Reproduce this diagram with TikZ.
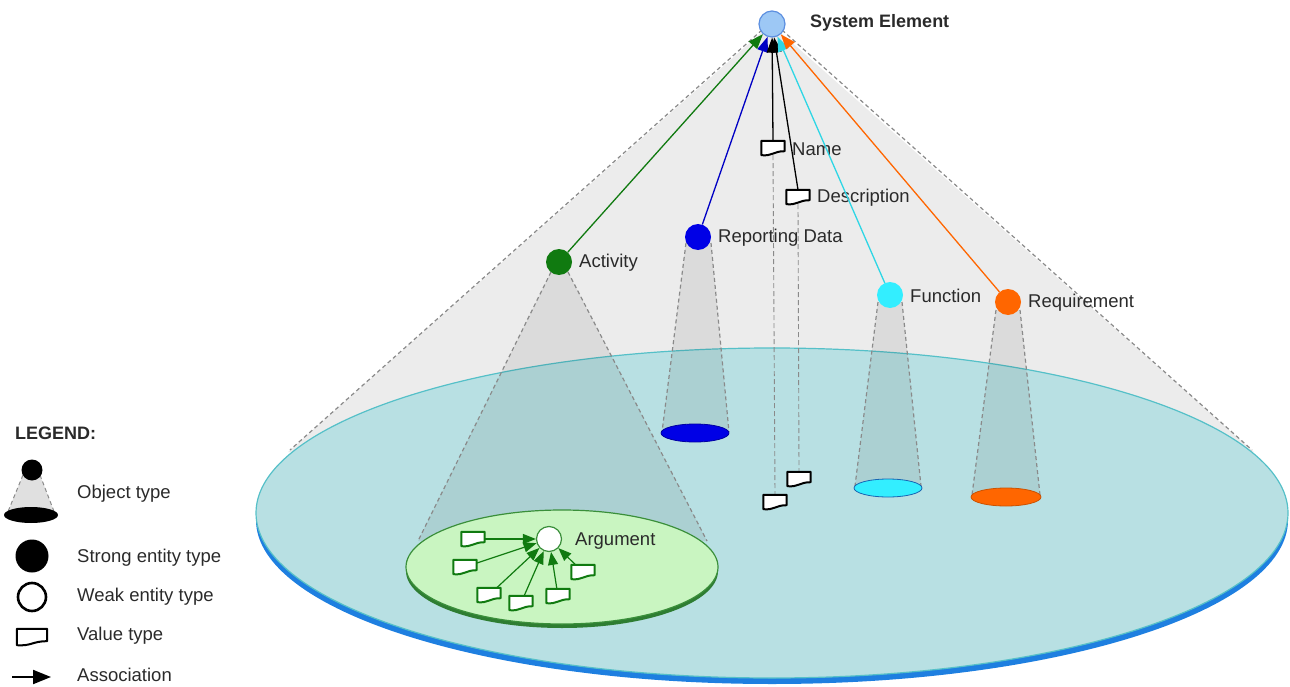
\documentclass[tikz,border=0pt]{standalone}
\usepackage{fontspec}
\setmainfont{Liberation Sans}
\usetikzlibrary{arrows.meta,calc}

\definecolor{conegray}{HTML}{ECECEC}
\definecolor{dashgray}{HTML}{8A8A8A}
\definecolor{discfill}{HTML}{B8E0E3}
\definecolor{discline}{HTML}{55C0C8}
\definecolor{discrim}{HTML}{1E7FE0}
\definecolor{actgreen}{HTML}{107A10}
\definecolor{repblue}{HTML}{0000E6}
\definecolor{funccyan}{HTML}{33EEFF}
\definecolor{reqorange}{HTML}{FF6600}
\definecolor{sysfill}{HTML}{9DC8F5}
\definecolor{sysline}{HTML}{5C8FE0}
\definecolor{argfill}{HTML}{C9F5C1}
\definecolor{argline}{HTML}{3A8F3A}
\definecolor{argrim}{HTML}{2E7D32}
\definecolor{txt}{HTML}{2A2A2A}

\tikzset{
  lbl/.style={anchor=west, text=txt, inner sep=0pt, font=\fontsize{18.5}{20}\selectfont},
  cone/.style={draw=dashgray, line width=1.2pt, dash pattern=on 4pt off 3pt},
  subfill/.style={fill=black, fill opacity=0.07, draw=none},
  entity/.style={circle, minimum size=26pt, inner sep=0pt},
  vbox/.style={rectangle, minimum width=23pt, minimum height=14pt, inner sep=0pt},
  arr/.style={line width=1.3pt, -{Triangle[length=15pt,width=11pt]}},
}

% value-type glyph drawn over an invisible anchor node
\newcommand\valglyph[2]{%
  \draw[#2, line width=2pt, fill=white, line join=round]
    (#1.north west) -- (#1.north east) -- ($(#1.south east)+(0,-4)$)
    .. controls ($(#1.south)+(0,-4)$) and ($(#1.south)+(0,1)$) .. (#1.south west) -- cycle;}

\begin{document}
\begin{tikzpicture}[x=1pt,y=-1pt]
\useasboundingbox (0,0) rectangle (1290,687);

% outer cone of the system element
\fill[conegray] (771,24) -- (288,452) -- (1254,452) -- cycle;
\draw[cone] (762,30) -- (290,450);
\draw[cone] (782,30) -- (1252,450);

% base disc with its rim
\fill[discrim] (772,520) ellipse [x radius=516pt, y radius=164pt];
\draw[discline, fill=discfill, line width=1.2pt] (772,513) ellipse [x radius=516pt, y radius=165pt];

% sub-cones
\fill[subfill] (551,272) -- (418,541) -- (707,541) -- (568,272) -- cycle;
\draw[cone] (551,272) -- (418,541);
\draw[cone] (568,272) -- (707,541);

\fill[subfill] (686,243) -- (662,432) -- (729,432) -- (711,243) -- cycle;
\draw[cone] (686,243) -- (662,432);
\draw[cone] (711,243) -- (729,432);

\fill[subfill] (878,302) -- (855,486) -- (921,486) -- (902,302) -- cycle;
\draw[cone] (878,302) -- (855,486);
\draw[cone] (902,302) -- (921,486);

\fill[subfill] (996,310) -- (972,495) -- (1040,495) -- (1020,310) -- cycle;
\draw[cone] (996,310) -- (972,495);
\draw[cone] (1020,310) -- (1040,495);

% bottom footprints
\fill[argrim] (562,571) ellipse [x radius=156pt, y radius=57pt];
\draw[argline, fill=argfill, line width=1.2pt] (562,567) ellipse [x radius=156pt, y radius=57pt];
\draw[repblue!70!black, fill=repblue, line width=0.8pt] (695,433) ellipse [x radius=34pt, y radius=9pt];
\draw[discrim!80!black, fill=funccyan, line width=0.8pt] (888,488) ellipse [x radius=34pt, y radius=9pt];
\draw[reqorange!80!black, fill=reqorange, line width=0.8pt] (1006,497) ellipse [x radius=35pt, y radius=9pt];

% entities
\node[entity, fill=sysfill, draw=sysline, line width=1.2pt] (sys) at (772,24) {};
\node[lbl, font=\bfseries\fontsize{18}{20}\selectfont] (syslbl) at (810,23) {System Element};

\node[entity, fill=actgreen] (act) at (559,262) {};
\node[lbl] (actlbl) at (579,263) {Activity};
\node[entity, fill=repblue] (rep) at (698,237) {};
\node[lbl] (replbl) at (718,238) {Reporting Data};
\node[entity, fill=funccyan] (func) at (890,295) {};
\node[lbl] (funclbl) at (910,296) {Function};
\node[entity, fill=reqorange] (req) at (1008,302) {};
\node[lbl] (reqlbl) at (1028,303) {Requirement};

% value types of the system element
\node[vbox] (name) at (773,148) {};
\node[vbox] (desc) at (798,197) {};
\node[vbox] (namefoot) at (775,502) {};
\node[vbox] (descfoot) at (799,479) {};
\draw[dashgray, line width=0.9pt, dash pattern=on 5pt off 3pt] (name.south) -- (namefoot.north);
\draw[dashgray, line width=0.9pt, dash pattern=on 5pt off 3pt] (desc.south) -- (descfoot.north);
\valglyph{name}{black}
\valglyph{desc}{black}
\valglyph{namefoot}{black}
\valglyph{descfoot}{black}
\node[lbl] (namelbl) at (792,149) {Name};
\node[lbl] (desclbl) at (817,198) {Description};

% associations to the system element
\draw[arr, actgreen] (act) -- (sys);
\draw[arr, repblue!85!black] (rep) -- (sys);
\draw[arr, black] (name.north) -- (sys);
\draw[arr, black] (desc.north) -- (sys);
\draw[arr, funccyan!90!black] (func) -- (sys);
\draw[arr, reqorange] (req) -- (sys);

% argument inside the activity footprint
\node[circle, minimum size=25pt, inner sep=0pt, fill=white, draw=argline, line width=1.2pt] (arg) at (549,539) {};
\node[lbl] (arglbl) at (575,541) {Argument};
\foreach \n/\x/\y in {a1/473/539, a2/465/567, a3/489/595, a4/521/603, a5/558/596, a6/583/572}{
  \node[vbox] (\n) at (\x,\y) {};
  \valglyph{\n}{actgreen}
  \draw[actgreen, line width=1.2pt, -{Triangle[length=13pt,width=10pt]}] (\n) -- (arg);
}

% legend
\node[lbl, font=\bfseries\fontsize{18}{20}\selectfont] (legend) at (15,433) {LEGEND:};

\fill[black!12] (23,475) -- (7,514) -- (55,514) -- (40,475) -- cycle;
\draw[cone, line width=1pt] (23,475) -- (7,514);
\draw[cone, line width=1pt] (40,475) -- (55,514);
\fill[black] (31,515) ellipse [x radius=27pt, y radius=8pt];
\node[circle, minimum size=21pt, inner sep=0pt, fill=black] (objtop) at (32,470) {};
\node[lbl] (objlbl) at (77,494) {Object type};

\node[circle, minimum size=33pt, inner sep=0pt, fill=black] (strong) at (32,556) {};
\node[lbl] (stronglbl) at (77,558) {Strong entity type};

\node[circle, minimum size=28pt, inner sep=0pt, fill=white, draw=black, line width=2.6pt] (weak) at (32,597) {};
\node[lbl] (weaklbl) at (77,597) {Weak entity type};

\node[vbox, minimum width=30pt, minimum height=16pt] (valkey) at (32,637) {};
\valglyph{valkey}{black}
\node[lbl] (vallbl) at (77,636) {Value type};

\coordinate (assocA) at (12,677);
\coordinate (assocB) at (51,677);
\draw[black, line width=2pt, -{Triangle[length=18pt,width=14pt]}] (assocA) -- (assocB);
\node[lbl] (assoclbl) at (77,675) {Association};
\end{tikzpicture}
\end{document}
